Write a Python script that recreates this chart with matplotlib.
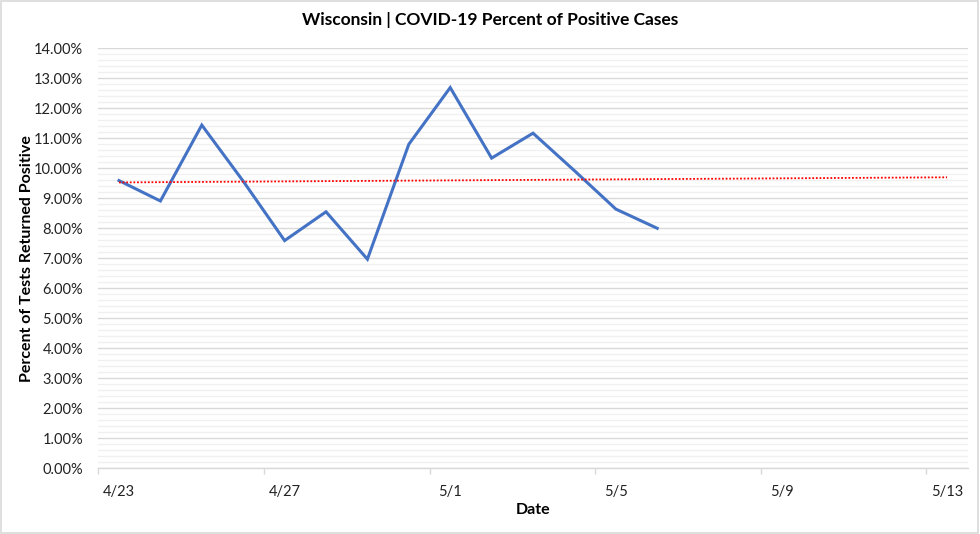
import numpy as np
import pandas as pd
import matplotlib
matplotlib.use("Agg")
import matplotlib.pyplot as plt
import matplotlib.dates as mdates
from matplotlib.patches import Rectangle
from matplotlib.ticker import FuncFormatter, MultipleLocator

plt.rcParams['font.family'] = ['Lato', 'DejaVu Sans']

# data (percent of tests returned positive)
dates = pd.date_range("2020-04-23", "2020-05-06", freq="D")
pct_positive = [9.59, 8.91, 11.44, 9.57, 7.59, 8.55, 6.97,
                10.80, 12.69, 10.34, 11.17, 9.92, 8.64, 8.00]
tick_dates = pd.date_range("2020-04-23", "2020-05-13", freq="4D")
x_start, x_end = pd.Timestamp("2020-04-23"), pd.Timestamp("2020-05-14")
forecast_days = 7

title = "Wisconsin | COVID-19 Percent of Positive Cases"
ylabel = "Percent of Tests Returned Positive"
xlabel = "Date"

blue = "#4472C4"
grid_major = "#d9d9d9"
grid_minor = "#f0f0f0"

fig = plt.figure(figsize=(9.8, 5.34), dpi=100)
ax = fig.add_axes([0.1003, 0.1230, 0.8872, 0.7866])

# excel puts the points between tick marks -> shift by half a day
half = pd.Timedelta(hours=12)
ax.plot(dates + half, pct_positive, color=blue, lw=2.2, solid_joinstyle="miter", zorder=3)

# linear trendline, forecast forward
idx = np.arange(len(pct_positive))
slope, icpt = np.polyfit(idx, pct_positive, 1)
t_idx = np.array([0, len(pct_positive) - 1 + forecast_days])
t_dates = dates[0] + pd.to_timedelta(t_idx, unit="D") + half
ax.plot(t_dates, slope * t_idx + icpt, color="#ff0000", lw=1.3, ls=(0, (1, 1)), zorder=4)

ax.set_xlim(x_start, x_end)
ax.set_ylim(0, 14)

ax.yaxis.set_major_locator(MultipleLocator(1))
ax.yaxis.set_minor_locator(MultipleLocator(0.2))
ax.yaxis.set_major_formatter(FuncFormatter(lambda v, p: f"{v:.2f}%"))
ax.grid(axis="y", which="major", color=grid_major, lw=1.0, zorder=1)
ax.grid(axis="y", which="minor", color=grid_minor, lw=1.0, zorder=0)
ax.tick_params(axis="y", which="both", length=0, pad=11, labelsize=10.5, labelcolor="#222222")

# tick marks at day boundaries, labels centered half a day to the right
ax.set_xticks(tick_dates)
ax.set_xticklabels([])
ax.set_xticks(tick_dates + pd.Timedelta(hours=12), minor=True)
ax.set_xticklabels([f"{d.month}/{d.day}" for d in tick_dates], minor=True)
ax.tick_params(axis="x", which="major", length=4, width=1, color=grid_major, direction="out")
ax.tick_params(axis="x", which="minor", length=0, pad=12, labelsize=10.5, labelcolor="#222222")

for s in ["top", "right", "left"]:
    ax.spines[s].set_visible(False)
ax.spines["bottom"].set_color(grid_major)
ax.spines["bottom"].set_linewidth(1.0)

fig.text(0.5, 0.962, title, ha="center", va="center", fontsize=12.5, fontweight="bold")
fig.text(0.028, 0.516, ylabel, rotation=90, ha="center", va="center", fontsize=11.5, fontweight="bold")
fig.text(0.544, 0.045, xlabel, ha="center", va="center", fontsize=11.5, fontweight="bold")

fig.patches.append(Rectangle((0.001, 0.002), 0.997, 0.996, transform=fig.transFigure,
                             fill=False, edgecolor="#d9d9d9", lw=1.2))

fig.savefig("out.png", dpi=100)
